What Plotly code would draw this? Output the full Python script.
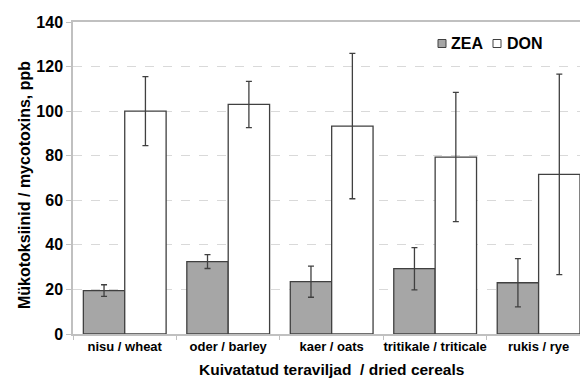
import plotly.graph_objects as go

categories = ["nisu / wheat", "oder / barley", "kaer / oats", "tritikale / triticale", "rukis / rye"]
zea = [19.5, 32.5, 23.5, 29.3, 23.0]
zea_err = [2.6, 3.1, 7.0, 9.5, 10.8]
don = [100.0, 103.0, 93.3, 79.4, 71.6]
don_err = [15.5, 10.4, 32.6, 29.0, 45.0]

W, H = 580, 378
L, R, T, B = 73, 0, 22, 44
PW, PH = W - L - R, H - T - B

def px(x):  # pixel x -> paper
    return (x - L) / PW

def py(y):  # pixel y -> paper
    return (H - B - y) / PH

edge = "#404040"
zea_fill = "#a6a6a6"
fig = go.Figure()
fig.add_trace(go.Bar(
    name="ZEA", x=categories, y=zea,
    marker=dict(color=zea_fill, line=dict(color=edge, width=1.3)),
    error_y=dict(type="data", array=zea_err, color=edge, thickness=1.3, width=3),
))
fig.add_trace(go.Bar(
    name="DON", x=categories, y=don,
    marker=dict(color="#ffffff", line=dict(color=edge, width=1.3)),
    error_y=dict(type="data", array=don_err, color=edge, thickness=1.3, width=3),
))

font = "Liberation Sans, Arial, sans-serif"
bold = dict(family=font, weight="bold", color="#000000")

annotations = [
    dict(text="Kuivatatud teraviljad  / dried cereals", xref="paper", yref="paper",
         x=px(331), y=py(369.5), xanchor="center", yanchor="middle", showarrow=False,
         font=dict(size=15.5, **bold)),
    dict(text="Mükotoksiinid / mycotoxins, ppb", xref="paper", yref="paper",
         x=px(25), y=py(185), xanchor="center", yanchor="middle", showarrow=False,
         textangle=-90, font=dict(size=16, **bold)),
    dict(text="ZEA", xref="paper", yref="paper", x=px(449), y=py(43.5),
         xanchor="left", yanchor="middle", showarrow=False, font=dict(size=16, **bold)),
    dict(text="DON", xref="paper", yref="paper", x=px(505), y=py(43.5),
         xanchor="left", yanchor="middle", showarrow=False, font=dict(size=16, **bold)),
]
shapes = [
    dict(type="rect", xref="paper", yref="paper", x0=px(438), x1=px(446), y0=py(47.5), y1=py(39.5),
         fillcolor=zea_fill, line=dict(color=edge, width=1)),
    dict(type="rect", xref="paper", yref="paper", x0=px(493), x1=px(501), y0=py(47.5), y1=py(39.5),
         fillcolor="#ffffff", line=dict(color=edge, width=1)),
]

fig.update_layout(
    width=W, height=H,
    margin=dict(l=L, r=R, t=T, b=B),
    paper_bgcolor="white", plot_bgcolor="white",
    barmode="group", bargap=0.2, bargroupgap=0,
    font=dict(family=font, color="#000000"),
    showlegend=False,
    annotations=annotations, shapes=shapes,
    xaxis=dict(
        range=[-0.5, 4.40], showline=True, linecolor="#c0c0c0", linewidth=1.5, mirror=True,
        ticks="outside", tickson="boundaries", ticklen=4, tickcolor="#c0c0c0",
        tickangle=0, automargin=False,
        tickfont=dict(size=13, **bold),
        showgrid=False,
    ),
    yaxis=dict(
        range=[0, 140], dtick=20, showline=True, linecolor="#c0c0c0", linewidth=1.5,
        ticks="outside", ticklen=5, tickcolor="#c0c0c0", automargin=False,
        tickfont=dict(size=16, **bold),
        showgrid=True, gridcolor="#d9d9d9", griddash="dash", gridwidth=1,
        zeroline=False,
    ),
)

fig.write_html("out.html", config={"displayModeBar": False},
               post_script="document.body.style.margin='0';document.body.style.overflow='hidden';")
